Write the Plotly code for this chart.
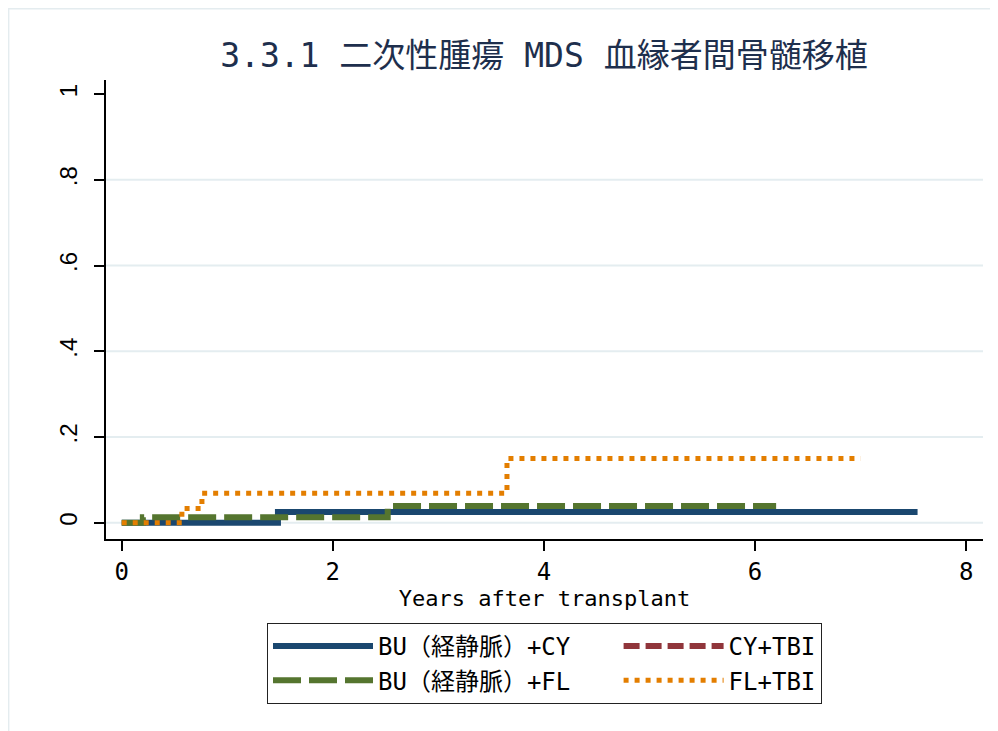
import plotly.graph_objects as go

# datos (incidencia acumulada, pasos)
bu_cy_x = [0, 1.48, 7.54]
bu_cy_y = [0, 0.025, 0.025]
bu_fl_x = [0, 0.2, 2.52, 6.2]
bu_fl_y = [0, 0.013, 0.039, 0.039]
cy_tbi_x = [0]
cy_tbi_y = [0]
fl_tbi_x = [0, 0.57, 0.76, 3.65, 7.0]
fl_tbi_y = [0, 0.033, 0.069, 0.15, 0.15]

y_ticks = [0, 0.2, 0.4, 0.6, 0.8, 1]
y_labels = ["0", ".2", ".4", ".6", ".8", "1"]
grid_vals = [0, 0.2, 0.4, 0.6, 0.8]
x_ticks = [0, 2, 4, 6, 8]

fuente = "DejaVu Sans Mono, Noto Sans CJK JP"
relleno = "\u00a0" * 3  # espacio para alinear la segunda columna de la leyenda

fig = go.Figure()
fig.add_trace(go.Scatter(x=bu_cy_x, y=bu_cy_y, mode="lines", line_shape="hv",
                         name="BU（経静脈）+CY" + relleno, legendrank=1,
                         line=dict(color="#1a476f", width=6)))
fig.add_trace(go.Scatter(x=bu_fl_x, y=bu_fl_y, mode="lines", line_shape="hv",
                         name="BU（経静脈）+FL" + relleno, legendrank=3,
                         line=dict(color="#55752f", width=6, dash="28px,8px")))
fig.add_trace(go.Scatter(x=cy_tbi_x, y=cy_tbi_y, mode="lines", line_shape="hv",
                         name="CY+TBI", legendrank=2,
                         line=dict(color="#90353b", width=6, dash="16px,6px")))
fig.add_trace(go.Scatter(x=fl_tbi_x, y=fl_tbi_y, mode="lines", line_shape="hv",
                         name="FL+TBI", legendrank=4,
                         line=dict(color="#e37e00", width=5, dash="5px,6px")))

# lineas de la cuadricula
for g in grid_vals:
    fig.add_shape(type="line", xref="paper", x0=0, x1=1, yref="y", y0=g, y1=g,
                  line=dict(color="#e4edf0", width=2), layer="below")

# borde exterior del area del grafico
fig.add_shape(type="rect", xref="paper", yref="paper", x0=-0.1110, x1=1.2, y0=-0.6, y1=1.1555,
              line=dict(color="#e4ecef", width=1.5), layer="below")

fig.update_layout(
    autosize=False, width=998, height=731,
    margin=dict(l=98, r=23, t=72, b=200, autoexpand=False),
    paper_bgcolor="white", plot_bgcolor="white",
    font=dict(family=fuente, size=22, color="black"),
    title=dict(text="3.3.1 二次性腫瘍 MDS 血縁者間骨髄移植", x=0.537, xanchor="center",
               y=1 - 47 / 731, yanchor="middle", yref="container",
               font=dict(family=fuente, size=33, color="#1e2f4d")),
    xaxis=dict(range=[-0.149, 8.16], tickvals=x_ticks, ticks="outside", ticklen=10,
               tickwidth=1.5, tickcolor="black", showline=True, linecolor="black",
               linewidth=1.5, showgrid=False, zeroline=False,
               tickfont=dict(size=24),
               title=dict(text="Years after transplant", standoff=5, font=dict(size=22))),
    yaxis=dict(range=[-0.038, 1.033], tickvals=y_ticks, ticktext=y_labels, tickangle=-90,
               ticks="outside", ticklen=10, tickwidth=1.5, tickcolor="black",
               showline=True, linecolor="black", linewidth=1.5, showgrid=False,
               zeroline=False, ticklabelstandoff=8,
               tickfont=dict(family="Liberation Sans", size=24)),
    legend=dict(orientation="h", x=0.5, xanchor="center", y=-0.183, yanchor="top",
                bordercolor="#222222", borderwidth=1, bgcolor="white",
                itemwidth=100, font=dict(family=fuente, size=24)),
)

fig.write_html("out.html")
